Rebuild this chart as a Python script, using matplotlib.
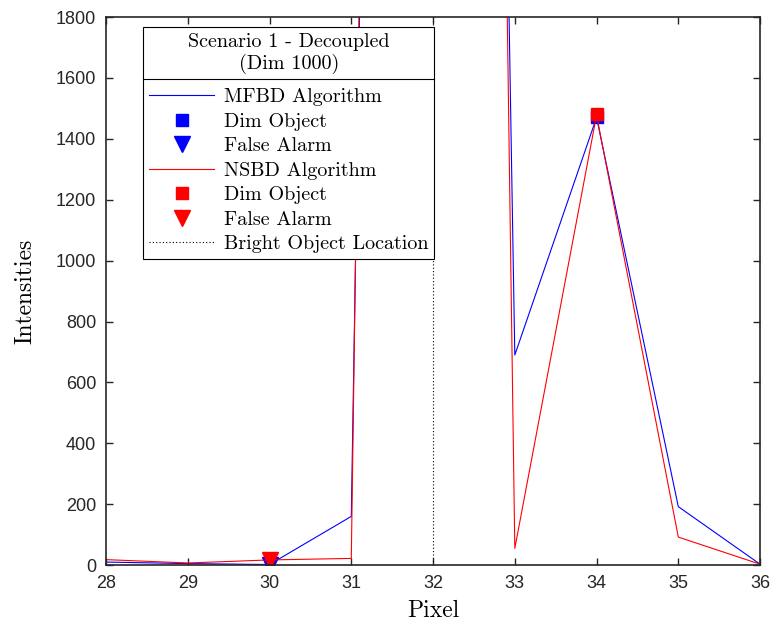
import matplotlib
matplotlib.use("Agg")
import matplotlib.pyplot as plt
from matplotlib.lines import Line2D

# pixel positions and intensities
pixels = [28, 29, 30, 31, 32, 33, 34, 35, 36]
mfbd = [10, 5, 2, 160, 16500, 690, 1470, 192, 3]
nsbd = [18, 7, 17, 22, 19000, 55, 1478, 92, 3]

dim_x = [34]
mfbd_dim = [1472]
nsbd_dim = [1482]
alarm_x = [30]
mfbd_alarm = [2]
nsbd_alarm = [17]
bright_x = 32

serif = "cmr10"
tick_font = "Liberation Sans"

fig = plt.figure(figsize=(7.74, 6.3), dpi=100)
ax = fig.add_axes([0.137, 0.103, 0.845, 0.870])

ax.plot(pixels, mfbd, color="blue", lw=0.8, label="MFBD Algorithm")
ax.plot(dim_x, mfbd_dim, "s", color="blue", ms=8, label="Dim Object")
ax.plot(alarm_x, mfbd_alarm, "v", color="blue", ms=12, label="False Alarm")
ax.plot(pixels, nsbd, color="red", lw=0.8, label="NSBD Algorithm")
ax.plot(dim_x, nsbd_dim, "s", color="red", ms=8, label="Dim Object")
ax.plot(alarm_x, nsbd_alarm, "v", color="red", ms=12, label="False Alarm")
ax.axvline(bright_x, color="black", ls=(0, (1, 2)), lw=0.8, label="Bright Object Location")

ax.set_xlim(28, 36)
ax.set_ylim(0, 1800)
ax.set_xticks(range(28, 37))
ax.set_yticks(range(0, 1801, 200))
ax.tick_params(direction="in", top=True, right=True, length=5, width=1,
               labelsize=13, colors="#262626", pad=7)
for lab in ax.get_xticklabels() + ax.get_yticklabels():
    lab.set_fontfamily(tick_font)
for sp in ax.spines.values():
    sp.set_color("#262626")
    sp.set_linewidth(1.2)

ax.set_xlabel("Pixel", fontfamily=serif, fontsize=17, labelpad=6)
ax.set_ylabel("Intensities", fontfamily=serif, fontsize=17, labelpad=14)

leg = ax.legend(loc="upper left", bbox_to_anchor=(0.057, 0.982), borderaxespad=0,
                title="Scenario 1 - Decoupled\n(Dim 1000)",
                prop={"family": serif, "size": 14.5},
                title_fontproperties={"family": serif, "size": 14.5},
                fancybox=False, edgecolor="black", framealpha=1,
                handlelength=3.2, handletextpad=0.5, labelspacing=0.32,
                borderpad=0.3)
leg.get_frame().set_linewidth(0.8)
leg.get_title().set_multialignment("center")
# more room between the title and the entries
leg._legend_box.sep = 10

# separator under the legend title
fig.canvas.draw()
lb = leg.get_window_extent()
tb = leg.get_title().get_window_extent()
inv = fig.transFigure.inverted()
x0, y0 = inv.transform((lb.x0, tb.y0 - 5))
x1, _ = inv.transform((lb.x1, tb.y0 - 5))
fig.add_artist(Line2D([x0, x1], [y0, y0], color="black", lw=0.8))

fig.savefig("out.png", dpi=100)
